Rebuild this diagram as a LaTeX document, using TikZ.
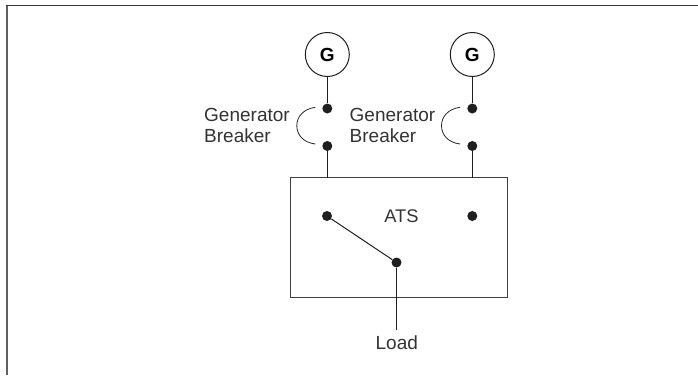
\documentclass[tikz,border=0pt]{standalone}
\usepackage{fontspec}
\setmainfont{Liberation Sans}
\tikzset{
  wire/.style={line width=1pt,draw=black!88},
  arcline/.style={line width=0.8pt,draw=black!85},
  boxline/.style={line width=1.2pt,draw=black!75},
  frametop/.style={line width=1.6pt,draw=black!80},
  frameleft/.style={line width=2pt,draw=black!62},
  dot/.style={circle,fill=black!88,draw=none,inner sep=0pt,minimum size=10pt},
  gen/.style={circle,draw=black!88,line width=1pt,fill=white,minimum size=44pt,inner sep=0pt,font=\fontsize{19}{20}\selectfont\bfseries},
  lab/.style={font=\fontsize{19}{20.5}\selectfont,text=black!80,inner sep=0pt},
}
\begin{document}
\begin{tikzpicture}[x=1pt,y=-1pt]
\useasboundingbox (0,0) rectangle (698,375);
\coordinate (tl) at (6,5.5);
\coordinate (tr) at (698,5.5);
\coordinate (bl) at (7,375);
\coordinate (tl2) at (7,5);
\draw[frameleft] (tl2) -- (bl);
\draw[frametop] (tr) -- (tl);
\node[gen] (g1) at (327.3,54.5) {G};
\node[gen] (g2) at (472.3,54.5) {G};
\node[dot] (a1) at (327.3,108.5) {};
\node[dot] (b1) at (327.3,146) {};
\node[dot] (a2) at (472.3,108.5) {};
\node[dot] (b2) at (472.3,146) {};
\node[draw,boxline,minimum width=216.5pt,minimum height=120pt,inner sep=0pt] (ats) at (399,237.5) {};
\coordinate (t1) at (327.3,177.5);
\coordinate (t2) at (472.3,177.5);
\node[dot] (s1) at (327,216) {};
\node[dot] (s2) at (472.3,216) {};
\node[dot] (c) at (396.5,262.5) {};
\node[lab,font=\fontsize{18.3}{20}\selectfont] (atsl) at (401.5,216.5) {ATS};
\node[lab] (load) at (396.8,343) {Load};
\coordinate (lt) at (396.5,329.5);
\draw[wire] (g1) -- (a1);
\draw[wire] (g2) -- (a2);
\draw[wire] (b1) -- (t1);
\draw[wire] (b2) -- (t2);
\draw[wire] (s1) -- (c);
\draw[wire] (c) -- (lt);
\node[lab,align=left,anchor=west] (l1) at (204,125.5) {Generator\\Breaker};
\node[lab,align=left,anchor=west] (l2) at (349.5,125.5) {Generator\\Breaker};
\coordinate (p1) at (315.3,107.3);
\coordinate (q1) at (315.3,144);
\coordinate (p2) at (460,107.3);
\coordinate (q2) at (460,144);
\draw[arcline] (p1) .. controls (303,109) and (296.8,117) .. (296.8,125.7) .. controls (296.8,134.5) and (303,142.5) .. (q1);
\draw[arcline] (p2) .. controls (447.7,109) and (441.5,117) .. (441.5,125.7) .. controls (441.5,134.5) and (447.7,142.5) .. (q2);
\end{tikzpicture}
\end{document}
